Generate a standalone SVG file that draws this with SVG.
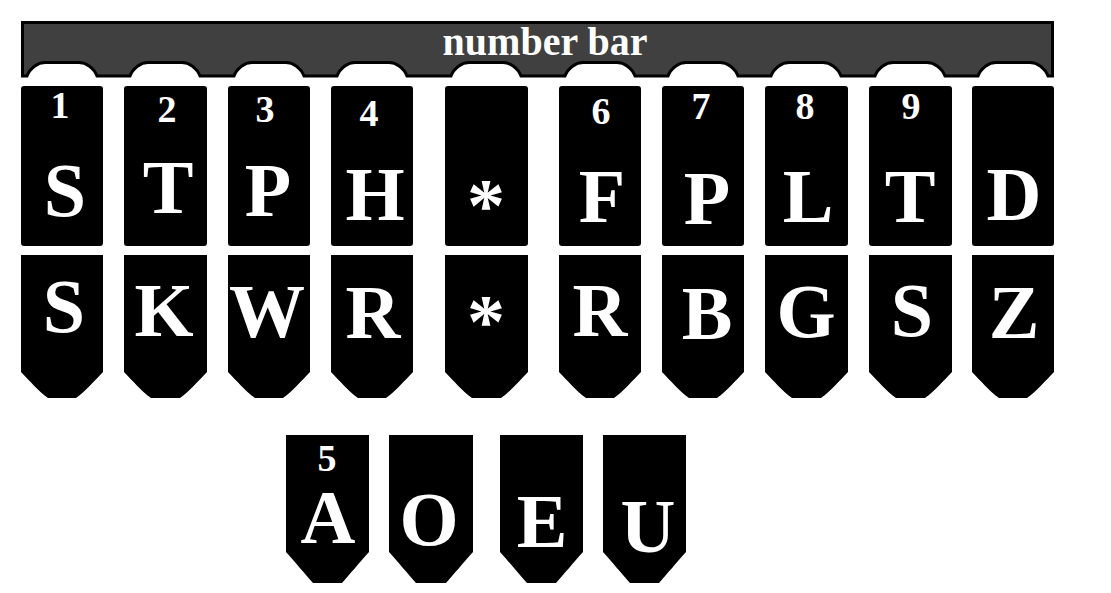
<svg xmlns="http://www.w3.org/2000/svg" width="1111" height="593" viewBox="0 0 1111 593">
<style>
.key{fill:#000}
.lt{font-family:"Liberation Serif","Times New Roman",serif;font-weight:bold;fill:#fff;text-anchor:middle;font-size:76px}
.num{font-family:"Liberation Serif","Times New Roman",serif;font-weight:bold;fill:#fff;text-anchor:middle;font-size:38px}
.bar{fill:#404040;stroke:#000;stroke-width:3;stroke-linejoin:miter}
.bt{font-family:"Liberation Serif","Times New Roman",serif;font-weight:bold;fill:#fff;text-anchor:middle;font-size:40px}
</style>
<rect width="1111" height="593" fill="#fff"/>
<g id="number-bar">
<path class="bar" d="M22.5,22.5 H1052.5 V76 H1048 C1045,68 1037,62.5 1030,62.5 H996 C989,62.5 981,68 978,76 H945 C942,68 934,62.5 927,62.5 H893 C886,62.5 878,68 875,76 H841 C838,68 830,62.5 823,62.5 H789 C782,62.5 774,68 771,76 H738 C735,68 727,62.5 720,62.5 H686 C679,62.5 671,68 668,76 H635 C632,68 624,62.5 617,62.5 H583 C576,62.5 568,68 565,76 H521 C518,68 510,62.5 503,62.5 H469 C462,62.5 454,68 451,76 H407 C404,68 396,62.5 389,62.5 H355 C348,62.5 340,68 337,76 H304 C301,68 293,62.5 286,62.5 H252 C245,62.5 237,68 234,76 H200 C197,68 189,62.5 182,62.5 H148 C141,62.5 133,68 130,76 H97 C94,68 86,62.5 79,62.5 H45 C38,62.5 30,68 27,76 H22.5 Z"/>
<text class="bt" x="545" y="55">number bar</text>
</g>
<g id="key-S1">
<rect class="key" x="21" y="86" width="82" height="160" rx="3"/>
<text class="num" x="60" y="118">1</text>
<text class="lt" x="65" y="216">S</text>
</g>
<g id="key-T1">
<rect class="key" x="124" y="86" width="83" height="160" rx="3"/>
<text class="num" x="167" y="122">2</text>
<text class="lt" x="168" y="213">T</text>
</g>
<g id="key-P1">
<rect class="key" x="228" y="86" width="82" height="160" rx="3"/>
<text class="num" x="265" y="122">3</text>
<text class="lt" x="268" y="216">P</text>
</g>
<g id="key-H">
<rect class="key" x="331" y="86" width="82" height="160" rx="3"/>
<text class="num" x="369" y="126">4</text>
<text class="lt" x="375" y="220">H</text>
</g>
<g id="key-star1">
<rect class="key" x="445" y="86" width="83" height="160" rx="3"/>
<text class="lt" x="486" y="231">*</text>
</g>
<g id="key-F">
<rect class="key" x="559" y="86" width="82" height="160" rx="3"/>
<text class="num" x="601" y="124">6</text>
<text class="lt" x="602" y="222">F</text>
</g>
<g id="key-P2">
<rect class="key" x="662" y="86" width="82" height="160" rx="3"/>
<text class="num" x="701" y="119">7</text>
<text class="lt" x="707" y="224">P</text>
</g>
<g id="key-L">
<rect class="key" x="765" y="86" width="83" height="160" rx="3"/>
<text class="num" x="805" y="119">8</text>
<text class="lt" x="808" y="222">L</text>
</g>
<g id="key-T2">
<rect class="key" x="869" y="86" width="83" height="160" rx="3"/>
<text class="num" x="911" y="119">9</text>
<text class="lt" x="910" y="222">T</text>
</g>
<g id="key-D">
<rect class="key" x="972" y="86" width="82" height="160" rx="3"/>
<text class="lt" x="1014" y="220">D</text>
</g>
<g id="key-S2">
<path class="key" d="M21,255 H103 V372 C94,381 86,391 76,398 H48 C38,391 30,381 21,372 Z"/>
<text class="lt" x="64" y="332">S</text>
</g>
<g id="key-K">
<path class="key" d="M124,255 H207 V372 C198,381 190,391 180,398 H151 C141,391 133,381 124,372 Z"/>
<text class="lt" x="164" y="336">K</text>
</g>
<g id="key-W">
<path class="key" d="M228,255 H310 V372 C301,381 293,391 283,398 H255 C245,391 237,381 228,372 Z"/>
<text class="lt" x="267" y="337">W</text>
</g>
<g id="key-R1">
<path class="key" d="M331,255 H413 V372 C404,381 396,391 386,398 H358 C348,391 340,381 331,372 Z"/>
<text class="lt" x="373" y="338">R</text>
</g>
<g id="key-star2">
<path class="key" d="M445,255 H528 V372 C519,381 511,391 501,398 H472 C462,391 454,381 445,372 Z"/>
<text class="lt" x="486" y="347">*</text>
</g>
<g id="key-R2">
<path class="key" d="M559,255 H641 V372 C632,381 624,391 614,398 H586 C576,391 568,381 559,372 Z"/>
<text class="lt" x="600" y="336">R</text>
</g>
<g id="key-B">
<path class="key" d="M662,255 H744 V372 C735,381 727,391 717,398 H689 C679,391 671,381 662,372 Z"/>
<text class="lt" x="707" y="339">B</text>
</g>
<g id="key-G">
<path class="key" d="M765,255 H848 V372 C839,381 831,391 821,398 H792 C782,391 774,381 765,372 Z"/>
<text class="lt" x="806" y="337">G</text>
</g>
<g id="key-S3">
<path class="key" d="M869,255 H952 V372 C943,381 935,391 925,398 H896 C886,391 878,381 869,372 Z"/>
<text class="lt" x="912" y="336">S</text>
</g>
<g id="key-Z">
<path class="key" d="M972,255 H1054 V372 C1045,381 1037,391 1027,398 H999 C989,391 981,381 972,372 Z"/>
<text class="lt" x="1014" y="338">Z</text>
</g>
<g id="key-A">
<path class="key" d="M286,435 H369 V552 C360,562 350,574 342,583 H313 C305,574 295,562 286,552 Z"/>
<text class="num" x="327" y="471">5</text>
<text class="lt" x="328" y="543">A</text>
</g>
<g id="key-O">
<path class="key" d="M389,435 H473 V552 C464,562 454,574 446,583 H416 C408,574 398,562 389,552 Z"/>
<text class="lt" x="429" y="545">O</text>
</g>
<g id="key-E">
<path class="key" d="M500,435 H583 V552 C574,562 564,574 556,583 H527 C519,574 509,562 500,552 Z"/>
<text class="lt" x="542" y="547">E</text>
</g>
<g id="key-U">
<path class="key" d="M603,435 H686 V552 C677,562 667,574 659,583 H630 C622,574 612,562 603,552 Z"/>
<text class="lt" x="648" y="552">U</text>
</g>
</svg>
